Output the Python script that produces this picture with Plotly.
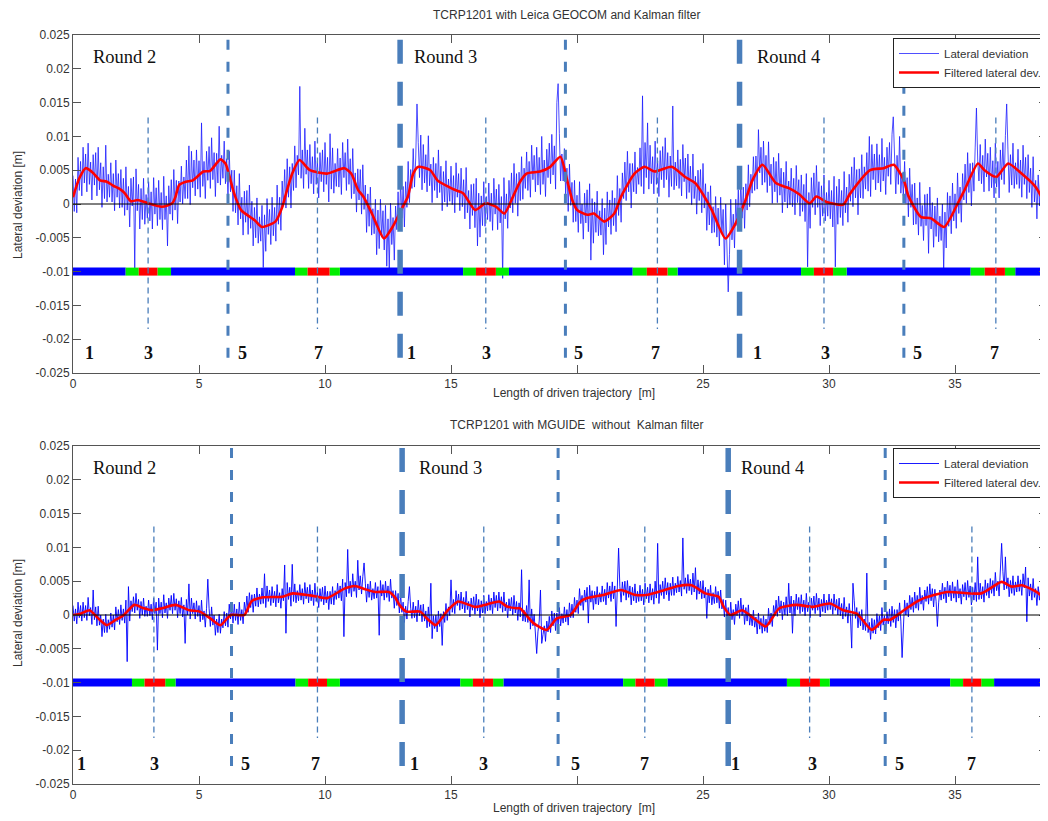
import numpy as np
import plotly.graph_objects as go

W, H = 1048, 821
PAGE_PAD = 8  # browser body margin around the plot div

# ---------------- DATA ----------------
sample_step_m = 0.05

# Top panel (Leica GEOCOM + Kalman): raw lateral deviation [mm], one value per 0.05 m
top_raw_mm = [
    4.2, -1.1, 3.7, -1.3, 6.9, 2.0, 6.3, 1.2, 8.4, 3.1,
    7.4, 1.8, 9.0, 2.9, 6.2, 0.6, 7.3, 2.8, 7.6, 1.2,
    8.4, 2.1, 6.1, -0.5, 5.5, 0.8, 8.7, 0.3, 4.4, 1.0,
    6.1, 0.3, 4.5, -1.0, 6.5, 1.0, 4.5, -0.6, 5.1, -0.5,
    3.8, -1.7, 5.5, -0.9, 2.6, -3.4, 3.8, -0.3, 4.0, -9.5,
    5.2, -1.0, 2.9, -3.7, 2.3, -2.3, 3.8, -3.0, 1.4, -2.1,
    3.3, -2.5, 1.8, -3.7, 3.9, -1.5, 2.4, -3.2, 3.5, -2.3,
    1.7, -3.8, 4.1, -2.3, 1.2, -6.2, 2.7, -1.5, 3.6, -2.4,
    5.1, -0.9, 3.5, -2.9, 3.4, 0.3, 5.6, 0.0, 4.0, 0.8,
    6.5, 0.8, 8.6, -0.1, 7.8, 2.4, 6.5, 1.2, 8.0, 2.2,
    6.4, 1.0, 12.0, 2.6, 6.3, 0.8, 7.8, 3.5, 8.5, 2.3,
    9.8, 3.6, 7.6, 1.1, 7.5, 3.1, 11.5, 2.8, 7.2, 3.8,
    9.3, 3.0, 6.7, 0.7, 7.8, 1.8, 5.0, -1.1, 5.0, -1.3,
    2.7, -3.1, 4.5, -2.2, 1.0, -4.6, 1.9, -2.7, 2.0, -4.5,
    2.8, -3.6, 0.4, -6.2, -0.5, -5.0, 0.9, -5.8, -1.9, -5.5,
    -0.2, -9.4, -1.6, -7.0, 0.8, -4.5, -0.8, -6.0, 1.0, -4.7,
    -0.5, -5.5, 2.8, -3.0, 1.0, -3.9, 3.4, -0.3, 5.1, -0.6,
    6.7, 1.0, 5.5, -0.6, 6.0, 2.0, 8.6, 2.4, 7.2, 4.3,
    17.4, 3.8, 8.0, 2.3, 11.2, 4.4, 8.0, 2.3, 8.8, 3.0,
    7.0, 1.5, 9.3, 2.9, 6.4, 0.9, 7.6, 3.3, 8.0, 1.8,
    9.1, 2.9, 6.9, 0.3, 10.4, 2.2, 8.3, 1.6, 6.0, 2.6,
    8.2, 2.5, 6.8, 1.4, 9.1, 3.9, 7.6, 2.0, 9.6, 2.9,
    6.7, 0.8, 8.2, 1.5, 4.6, -1.2, 5.2, 0.6, 5.1, -1.5,
    5.8, -0.8, 2.8, -4.2, 1.5, -3.3, 2.5, -4.6, -0.7, -4.4,
    0.7, -7.5, -0.9, -6.6, 0.7, -4.9, -1.0, -6.8, -0.2, -9.2,
    -2.2, -9.5, 0.1, -6.0, -2.0, -8.3, -0.3, -3.8, 1.8, -3.8,
    3.5, -2.1, 2.6, -3.4, 3.3, -0.5, 6.3, 0.2, 5.1, 2.3,
    8.2, 2.5, 6.8, 14.8, 9.1, 3.9, 10.2, 2.1, 8.8, 3.1,
    7.3, 1.8, 10.1, 2.7, 5.9, 0.2, 6.9, 2.0, 6.0, 0.9,
    8.0, 1.7, 5.6, -1.0, 4.8, 0.3, 6.4, -0.4, 3.7, 0.4,
    5.6, -0.1, 4.2, -1.3, 6.1, 1.0, 4.5, -1.0, 5.3, -0.4,
    3.6, -2.2, 5.4, -1.3, 2.0, -3.7, 2.9, -1.7, 3.0, -3.5,
    3.8, -6.2, 1.6, -4.9, 1.2, -3.2, 3.3, -3.3, 1.1, -2.3,
    3.1, -2.6, 1.6, -3.9, 3.8, -1.5, 2.2, -3.8, 2.9, -2.8,
    1.1, -11.0, 3.9, -2.2, 1.5, -3.6, 3.5, -0.6, 4.6, -1.3,
    6.0, 0.1, 4.5, -1.8, 4.7, 0.5, 7.0, 0.7, 5.3, 2.3,
    7.7, 2.0, 6.3, 1.0, 8.7, 3.6, 7.2, 1.8, 8.4, 2.8,
    6.9, 1.4, 10.0, 2.9, 6.5, 1.1, 8.1, 3.9, 9.0, 3.0,
    10.3, 4.3, 8.6, 2.2, 15.0, 17.8, 10.4, 3.4, 7.4, 3.4,
    8.2, 1.5, 5.3, -1.1, 5.9, -0.2, 3.2, -2.7, 3.5, -2.6,
    1.3, -4.2, 3.3, -2.9, 0.0, -5.2, 1.6, -2.8, 2.1, -4.1,
    3.0, -8.3, 0.8, -5.8, 0.3, -4.2, 1.9, -4.7, -1.0, -4.6,
    0.8, -7.5, -0.6, -6.0, 1.8, -3.4, 0.6, -4.5, 2.0, -3.2,
    0.9, -4.1, 4.2, -1.7, 2.3, -2.7, 4.6, 0.8, 6.2, 0.5,
    7.8, 1.8, 6.0, -0.6, 6.0, 1.8, 7.7, 1.5, 5.4, 2.9,
    8.3, 2.6, 16.0, 1.5, 9.1, 3.9, 12.0, 2.2, 8.7, 3.0,
    7.0, 1.5, 9.3, 2.9, 6.4, 1.1, 7.9, 3.6, 8.5, 2.4,
    9.8, 3.6, 7.6, 1.0, 7.1, 2.6, 14.5, 2.1, 6.2, 2.7,
    8.0, 2.3, 6.6, 1.2, 8.8, 3.3, 6.8, 0.8, 7.4, 1.7,
    5.6, -0.1, 7.4, 0.8, 4.1, -1.5, 5.0, 0.5, 5.1, -1.3,
    6.0, -0.6, 3.0, -3.9, 1.8, -3.1, 2.7, -4.3, -0.4, -4.2,
    1.1, -4.9, -0.6, -6.2, 1.0, -4.4, -0.8, -9.0, 0.0, -6.2,
    -13.0, -7.5, 0.7, -5.3, -1.5, -6.5, 0.7, -3.2, 2.1, -3.7,
    3.6, -2.1, 2.5, -3.6, 3.0, -0.9, 5.8, -0.4, 4.4, 1.6,
    7.0, 2.0, 7.1, 2.2, 11.0, 4.6, 8.4, 2.8, 9.3, 3.2,
    7.2, 1.7, 9.2, 2.7, 5.9, 0.1, 6.9, 1.8, 6.3, 0.2,
    7.5, 1.3, 5.3, -1.3, 4.7, 0.3, 6.3, -0.6, 3.4, -0.1,
    5.3, -0.4, 3.8, -1.6, 5.7, 0.2, 3.6, -1.8, 4.3, -1.1,
    2.9, -2.6, 4.5, -9.3, 1.7, -3.6, 3.9, -0.5, 4.6, -1.6,
    5.7, -0.5, 3.3, -3.2, 2.7, -1.8, 4.3, -2.5, 1.7, -1.8,
    3.5, -2.2, 2.0, -3.4, 4.1, -9.3, 2.6, -3.0, 3.7, -2.0,
    2.0, -3.2, 4.8, -1.3, 2.5, -2.7, 4.4, 0.4, 5.5, -0.4,
    6.9, 0.9, 5.1, -1.6, 5.2, 0.9, 7.3, 0.8, 5.5, 2.2,
    7.6, 1.9, 10.0, 1.1, 8.8, 3.6, 7.4, 2.1, 8.9, 3.1,
    7.3, 1.8, 9.7, 3.4, 6.9, 1.4, 8.4, 4.1, 9.1, 2.9,
    10.3, 12.9, 8.0, 1.5, 7.2, 2.9, 10.0, 1.6, 4.6, 1.2,
    6.3, 0.1, 3.9, -1.9, 5.3, -0.5, 2.9, -3.1, 3.1, -3.0,
    0.9, -4.6, 3.2, -3.3, -0.2, -5.4, 1.4, -3.2, 1.5, -7.3,
    2.5, -3.7, 0.2, -6.4, -0.3, -4.8, 0.9, -5.6, -1.8, -5.4,
    0.0, -9.8, -1.2, -6.5, 1.7, -3.3, 1.2, -4.4, 3.1, -2.5,
    1.5, -3.6, 4.6, -1.4, 2.5, -2.7, 4.5, 0.6, 5.9, 0.1,
    7.6, 1.7, 6.0, -0.3, 6.1, 1.9, 8.3, 14.2, 6.5, 3.4,
    8.8, 3.0, 7.2, 1.8, 9.6, 4.0, 7.5, 1.9, 8.4, 2.4,
    6.4, 0.9, 9.0, 2.5, 6.3, 0.9, 8.0, 3.6, 9.1, 2.9,
    10.1, 14.8, 8.0, 1.7, 7.3, 2.8, 9.0, 2.3, 6.1, 2.9,
    8.1, 2.3, 6.5, 1.0, 8.7, 2.9, 6.9, 0.8, 7.3, 1.7,
    5.3, -0.5, 7.0, 0.3, 3.5, -2.2, 4.3, -0.3, 4.3, -2.2,
    5.1, -1.1, 2.7, -4.5,
]

# Top panel filtered (Kalman) curve, read at points along the track
top_filt_x = [0.0, 0.25, 0.5, 0.8, 1.07, 1.34, 1.6, 1.82, 2.05, 2.3, 2.57, 2.98, 3.53, 3.94,
              4.07, 4.21, 4.48, 4.76, 5.17, 5.44, 5.85, 6.05, 6.25, 6.4, 6.67, 7.21, 7.49,
              8.03, 8.3, 8.45, 8.7, 8.99, 9.4, 10.08, 10.77, 11.04, 11.31, 11.52, 11.86,
              12.34, 12.68, 13.09, 13.29, 13.5, 13.71, 14.18, 14.46, 14.87, 15.14, 15.48,
              15.96, 16.37, 16.78, 17.12, 17.46, 17.74, 18.0, 18.54, 18.94, 19.34, 19.61,
              19.81, 20.01, 20.41, 20.67, 21.08, 21.48, 21.75, 22.28, 22.68, 23.08, 23.75,
              24.29, 24.69, 25.02, 25.35, 25.89, 26.29, 26.69, 26.96, 27.36, 27.89, 28.43,
              28.83, 29.23, 29.5, 29.9, 30.56, 30.83, 31.63, 32.17, 32.57, 32.97, 33.15,
              33.64, 34.04, 34.57, 35.11, 35.37, 35.91, 36.17, 36.64, 37.11, 37.64, 38.18,
              38.5, 38.65]
top_filt_mm = [1.0, 3.8, 5.3, 4.6, 3.5, 3.3, 2.7, 2.3, 1.6, 0.4, 0.6, 0.1, -0.4, 0.1,
               1.1, 2.8, 3.3, 3.5, 4.8, 4.9, 6.6, 6.0, 3.5, 1.5, -0.9, -2.4, -3.4,
               -2.6, -0.5, 1.5, 4.5, 6.5, 5.0, 4.5, 5.3, 4.5, 2.1, 1.1, -1.4,
               -5.1, -3.4, -0.4, 1.1, 4.5, 5.5, 5.0, 3.5, 2.6, 2.1, 1.6,
               -0.9, 0.1, -0.4, -1.4, 1.1, 3.3, 4.5, 4.8, 5.5, 7.0, 3.5,
               0.6, -0.9, -1.6, -1.4, -2.6, -1.4, 1.1, 4.5, 5.5, 4.8, 5.5,
               4.0, 3.1, 1.3, -0.9, -5.1, -2.9, 0.6, 3.5, 5.8, 3.1, 2.3,
               1.4, 0.1, 1.1, 0.3, -0.1, 1.5, 5.0, 5.3, 5.8, 3.5, 1.2,
               -1.9, -2.1, -3.4, 0.1, 2.0, 6.0, 5.0, 4.0, 6.0, 4.5, 2.6,
               0.5, -0.9]

# Bottom panel (MGUIDE, no Kalman): raw lateral deviation [mm], one value per 0.05 m
bot_raw_mm = [
    1.4, -0.9, 0.9, -1.3, 1.9, -0.4, 1.4, -0.9, 1.9, -0.4,
    1.4, -0.8, 2.6, -0.1, 1.1, -1.4, 3.7, -0.7, 1.2, -1.6,
    1.3, -1.5, 0.0, -3.2, -0.6, -2.6, 0.1, -2.6, -0.7, -2.1,
    0.3, -1.8, 0.0, -2.2, 1.2, -1.0, 0.8, -1.4, 1.5, -0.8,
    0.9, -1.2, 2.2, -6.9, 4.2, -0.9, 2.1, 0.5, 2.7, 0.3,
    3.2, 0.7, 2.3, -0.5, 2.0, 0.0, 2.5, -0.2, 1.3, -0.2,
    2.2, -0.1, 1.6, -0.7, 2.5, 0.2, 1.9, -5.2, 2.5, 0.2,
    1.9, -0.4, 3.0, 0.3, 1.8, -0.5, 2.5, 0.7, 2.9, 0.2,
    3.2, 0.7, 2.4, -0.4, 2.1, 0.2, 2.6, -0.3, 1.5, -4.2,
    2.3, 0.0, 4.6, -0.6, 2.5, 0.2, 1.8, -0.6, 2.1, -0.2,
    1.4, -1.0, 2.2, -0.7, 0.6, -1.8, 1.0, 5.3, 1.0, -1.7,
    1.2, -1.5, 0.0, -3.0, -0.6, -2.6, 0.1, -2.7, -0.6, -1.9,
    0.5, -1.6, 0.3, -1.8, 1.6, -0.6, 1.1, -1.2, 1.6, -0.8,
    0.9, -1.4, 1.9, -0.8, 0.8, -1.3, 1.9, 0.4, 2.8, 0.4,
    3.3, 1.1, 3.0, 0.4, 3.1, 1.3, 4.0, 1.2, 3.1, 1.6,
    4.0, 1.7, 6.1, 1.1, 4.3, 2.0, 3.7, 1.4, 4.2, 1.8,
    3.5, 1.2, 4.5, 1.8, 3.3, 1.0, 3.9, 2.1, 7.4, -2.7,
    4.8, 2.3, 4.1, 1.3, 7.5, 2.0, 4.6, 1.8, 3.6, 2.1,
    4.5, 2.2, 3.9, 1.6, 4.8, 2.4, 4.1, 1.8, 4.5, 2.1,
    3.7, 1.4, 4.7, 2.0, 3.4, 1.1, 3.9, 2.0, 4.1, 1.5,
    4.3, 1.8, 3.5, 0.8, 3.5, 1.6, 4.2, 1.5, 3.6, 2.3,
    4.7, 2.5, 4.3, 2.1, 5.3, -3.2, 4.8, 2.7, 9.7, 3.2,
    5.0, 2.7, 6.1, 3.5, 5.0, 2.6, 8.1, 3.7, 5.8, 3.1,
    5.7, 7.7, 4.7, 1.9, 4.6, 2.6, 5.0, 2.2, 3.9, 2.4,
    4.8, 2.5, 4.2, -3.0, 5.1, 2.8, 4.5, 2.2, 5.0, 2.6,
    4.3, 2.0, 5.3, 2.5, 3.6, 1.0, 3.6, 1.4, 3.2, 0.3,
    3.1, 0.4, 1.9, -1.1, 1.3, -0.6, 2.0, 4.2, 1.0, -0.5,
    1.9, -0.4, 1.3, -1.0, 2.2, -0.1, 1.5, -1.0, 1.6, -0.9,
    0.6, -1.9, 1.2, -1.7, 4.7, -3.5, -0.1, -2.0, 0.0, -2.5,
    0.6, -1.7, 0.2, -4.5, 0.5, -1.1, 1.7, -0.8, 1.2, -0.1,
    5.2, 0.4, 2.3, 0.2, 3.6, 1.4, 3.1, 0.7, 3.4, 0.9,
    2.6, 0.3, 3.5, 0.8, 2.0, -0.3, 2.5, 0.7, 2.7, 0.1,
    3.1, 0.6, 2.3, -0.4, 2.1, 0.3, 2.9, 0.2, 2.0, 0.6,
    3.0, 0.7, 2.5, 0.2, 3.4, 1.1, 2.9, 0.6, 3.4, 1.0,
    2.7, 0.4, 3.4, 0.6, 1.9, -0.4, 2.4, 0.6, 2.6, 0.0,
    2.9, 0.3, 2.0, -0.8, 1.8, -0.3, 6.7, -0.9, 0.7, -1.0,
    1.4, -1.1, 5.2, -2.1, 0.9, -1.6, 0.1, -2.6, -5.7, -2.5,
    -0.9, 3.7, -4.2, -2.9, -1.6, -3.9, -0.9, -2.5, -0.2, -2.6,
    0.6, -1.6, 0.3, -2.3, 0.3, -1.5, 1.1, -1.6, 0.2, -1.2,
    1.2, -1.0, 0.8, -1.5, 1.8, -0.4, 1.6, -0.4, 2.6, 0.4,
    2.2, 0.2, 3.9, 1.4, 2.9, 0.7, 3.7, 1.9, 4.1, -1.2,
    4.4, 1.9, 3.6, 0.8, 3.5, 1.6, 4.2, 1.5, 3.3, 1.9,
    4.3, 2.0, 3.8, 1.5, 4.8, 2.5, 4.3, 2.0, 4.9, 2.4,
    4.3, -1.7, 5.4, 9.9, 4.2, 1.9, 4.9, 2.9, 5.0, 2.2,
    5.1, 2.6, 4.3, 1.5, 4.1, 2.1, 4.6, 1.8, 3.5, 2.0,
    4.4, 2.1, 3.8, 1.5, 4.7, 2.4, 4.1, 1.8, 4.6, 2.2,
    3.9, 1.6, 5.0, 2.5, 10.6, 1.7, 4.5, 2.9, 5.0, 2.4,
    5.5, 3.0, 4.8, 2.1, 4.7, 2.9, 5.6, 2.9, 4.7, 3.3,
    5.7, 3.4, 5.1, 2.8, 11.4, 3.8, 5.5, 3.2, 6.0, 3.6,
    5.3, 3.0, 6.2, 3.4, 7.0, 2.3, 5.2, 3.1, 5.0, 2.4,
    5.1, 2.5, 4.1, -0.5, 3.8, 1.8, 4.4, 1.5, 3.3, 1.7,
    4.2, 1.8, 3.5, 1.0, 3.7, 0.9, 2.3, -0.3, 2.2, -0.5,
    1.1, -1.4, 1.9, -0.7, 0.8, -1.4, 1.6, -0.1, 2.1, -0.5,
    2.5, -0.1, 1.5, -1.4, 1.1, -0.9, 1.5, -1.5, 0.1, -1.6,
    0.7, -1.8, -0.3, -2.8, 0.3, -2.1, -0.5, -2.7, -0.1, -2.4,
    -0.6, -2.6, 1.0, -1.4, 0.3, -1.7, 1.4, -0.1, 2.2, -0.2,
    2.8, 0.3, 2.1, -0.7, 1.9, 0.0, 2.7, -0.1, 4.7, 0.3,
    2.8, -2.7, 2.2, -0.1, 3.1, 0.8, 2.6, 0.2, 3.0, 0.5,
    2.2, -0.1, 3.2, 0.5, 1.9, -0.4, 2.5, 0.7, 2.8, 0.2,
    3.2, 0.7, 2.5, -0.3, 2.3, 0.5, 3.1, 0.3, 2.2, 0.7,
    3.1, 0.8, 2.4, 0.1, 3.1, 0.7, 2.3, 0.0, 2.5, -0.1,
    1.7, -0.6, 2.6, -0.2, 1.2, -1.2, 1.7, -0.3, -4.9, 4.7,
    2.1, -0.5, 1.1, -1.9, 0.5, -1.6, 0.8, -2.2, -0.6, -2.3,
    6.2, -2.6, -1.1, -3.6, -0.5, -2.7, -0.7, -2.8, 0.2, -1.9,
    -0.1, -2.3, 1.1, -1.5, -0.1, -2.4, 0.5, -1.3, 0.9, -1.7,
    1.3, -1.1, 0.8, -1.9, 0.8, -0.9, 1.8, -0.9, -6.3, -0.3,
    2.2, 0.0, 1.8, -0.3, 2.9, 0.8, 2.6, 0.4, 3.4, 1.0,
    2.9, 0.7, 4.1, 1.6, 2.9, 0.7, 3.7, 2.0, 4.2, 1.6,
    4.6, 2.1, 3.9, 1.2, 3.8, 2.0, -1.7, 1.8, 3.7, 2.2,
    4.7, 2.4, 4.1, 1.8, 5.0, 2.7, 4.4, 2.1, 4.9, 2.5,
    4.2, 1.9, 5.2, 2.5, 3.9, 1.6, 4.5, 2.7, 4.8, 2.2,
    5.1, 2.6, 4.3, 1.5, 4.1, 2.2, 4.8, 2.0, 8.6, 2.3,
    4.7, 2.4, 4.2, 1.9, 5.2, 2.9, 4.7, 2.5, 5.4, 3.2,
    5.1, 2.8, 6.3, 3.6, 5.0, 2.8, 6.0, 10.6, 6.4, 3.7,
    8.6, 3.9, 5.5, 2.7, 5.1, 3.2, 5.8, 2.9, 4.9, 3.4,
    5.8, 3.5, 5.2, 2.9, 6.1, 4.0, 7.1, -1.0, 5.5, 2.8,
    4.6, 2.2, 5.4, 2.6, 3.9, 1.4, 4.2, 2.2, 4.2, 1.4,
    4.3, 4.7, 3.3, 1.1,
]

bot_filt_x = [0.0, 0.3, 0.66, 1.0, 1.34, 1.7, 2.02, 2.43, 2.8, 3.12, 3.53, 4.07, 4.62, 5.03,
              5.45, 5.85, 6.26, 6.8, 7.08, 7.49, 8.31, 8.72, 9.4, 10.08, 10.77, 11.18, 11.6,
              12.0, 12.54, 12.78, 12.95, 13.23, 13.77, 14.1, 14.39, 14.87, 15.28, 15.96,
              16.45, 16.92, 17.2, 17.6, 17.74, 18.27, 18.8, 19.2, 19.74, 20.14, 20.41,
              21.08, 21.75, 22.28, 22.82, 23.48, 24.02, 24.55, 25.09, 25.62, 25.82, 26.09,
              26.55, 27.09, 27.49, 28.03, 28.7, 29.36, 30.03, 30.57, 31.1, 31.7, 32.17,
              32.43, 32.97, 33.5, 33.77, 34.7, 36.04, 36.85, 37.25, 37.65, 38.2, 38.65]
bot_filt_mm = [0.0, 0.2, 0.7, -0.5, -1.5, -0.7, 0.0, 1.5, 1.0, 0.7, 1.0, 1.5, 0.7, 0.5,
               -0.5, -1.5, 0.0, 0.0, 2.0, 2.6, 2.7, 3.2, 2.9, 2.5, 3.9, 4.3, 3.8,
               3.4, 3.4, 2.6, 1.5, 0.5, 0.5, -0.7, -1.5, 0.7, 2.0, 1.2,
               1.6, 2.0, 1.3, 1.0, 1.0, -1.2, -2.2, -0.5, 0.0, 2.0, 2.5,
               3.0, 3.7, 3.0, 3.0, 3.7, 4.3, 4.4, 3.2, 2.7, 1.2, 0.0,
               0.7, -0.7, -1.7, 1.0, 1.5, 1.2, 1.7, 0.7, 0.2, -2.2, -0.7,
               -0.7, 0.7, 2.0, 2.5, 3.4, 3.2, 4.9, 4.2, 4.4, 3.5, 2.2]

# Track-section bar at y = -0.01 (boundaries in m and the kind of each piece)
bar_level = -0.01
top_seg_edges = [0, 2.09, 2.61, 3.35, 3.89, 8.81, 9.31, 10.18, 10.59, 15.48, 15.99, 16.78, 17.30,
                 22.21, 22.77, 23.59, 23.99, 28.89, 29.40, 30.16, 30.70, 35.62, 36.18, 36.98,
                 37.39, 38.65]
bot_seg_edges = [0, 2.34, 2.84, 3.66, 4.07, 8.83, 9.33, 10.08, 10.59, 15.37, 15.87, 16.67, 17.08,
                 21.83, 22.32, 23.08, 23.59, 28.33, 28.85, 29.64, 30.03, 34.81, 35.32, 36.04,
                 36.55, 38.65]
seg_kinds = ["straight", "transition", "curve", "transition"] * 6 + ["straight"]

# Vertical markers
top_round_x = [12.98, 26.45]
top_half_x = [6.15, 19.54, 32.97]
top_point_x = [2.98, 9.70, 16.38, 23.19, 29.80, 36.62]
bot_round_x = [13.06, 26.00]
bot_half_x = [6.29, 19.25, 32.23]
bot_point_x = [3.21, 9.70, 16.30, 22.69, 29.23, 35.67]

# Labels
round_names = ["Round 2", "Round 3", "Round 4"]
top_round_label_x = [0.71, 13.45, 27.05]
bot_round_label_x = [0.71, 13.64, 26.43]
point_names = ["1", "3", "5", "7"] * 3
top_point_label_x = [0.67, 2.98, 6.74, 9.74, 13.43, 16.41, 20.04, 23.12, 27.16, 29.87, 33.5, 36.55]
bot_point_label_x = [0.34, 3.25, 6.85, 9.64, 13.57, 16.30, 19.94, 22.68, 26.29, 29.34, 32.81, 35.64]

x_ticks = [0, 5, 10, 15, 20, 25, 30, 35]
x_tick_text = ["0", "5", "10", "15", "", "25", "30", "35"]
y_ticks = [0.025, 0.02, 0.015, 0.01, 0.005, 0, -0.005, -0.01, -0.015, -0.02, -0.025]
y_tick_text = ["0.025", "0.02", "0.015", "0.01", "0.005", "0", "-0.005", "-0.01", "-0.015", "-0.02", "-0.025"]

# ---------------- STYLE ----------------
X_MAX = 38.65
seg_colors = {"straight": "#0000ff", "transition": "#00ee00", "curve": "#ff0000"}
marker_col = "#4a7ebb"
sans = "Liberation Sans, Arial, sans-serif"
serif = "Liberation Serif, Times New Roman, serif"
txt_col = "#333333"


def px2x(p):
    return (p - PAGE_PAD) / W


def px2y(p):
    return 1 - (p - PAGE_PAD) / H


fig = go.Figure()


def add_panel(raw_mm, fx, fmm, edges, xa, ya, legend, raw_color, raw_width):
    xs = np.arange(len(raw_mm)) * sample_step_m
    fig.add_trace(go.Scatter(x=xs, y=np.array(raw_mm) / 1000.0, mode="lines",
                             line=dict(color=raw_color, width=raw_width), name="Lateral deviation",
                             xaxis=xa, yaxis=ya, legend=legend, hoverinfo="skip"))
    fig.add_trace(go.Scatter(x=fx, y=np.array(fmm) / 1000.0, mode="lines",
                             line=dict(color="#ff0000", width=2.6, shape="spline", smoothing=0.6),
                             name="Filtered lateral dev.",
                             xaxis=xa, yaxis=ya, legend=legend, hoverinfo="skip"))
    for kind, col in seg_colors.items():
        sx, sy = [], []
        for i, k in enumerate(seg_kinds):
            if k == kind:
                sx += [edges[i], edges[i + 1], None]
                sy += [bar_level, bar_level, None]
        fig.add_trace(go.Scatter(x=sx, y=sy, mode="lines", line=dict(color=col, width=8),
                                 showlegend=False, xaxis=xa, yaxis=ya, hoverinfo="skip"))


add_panel(top_raw_mm, top_filt_x, top_filt_mm, top_seg_edges, "x", "y", "legend",
          "rgba(20,20,255,0.75)", 1.0)
add_panel(bot_raw_mm, bot_filt_x, bot_filt_mm, bot_seg_edges, "x2", "y2", "legend2",
          "#0000ff", 0.9)

shapes = []


def vlines(xs, xref, yref, y_top, y_bot, width, dash):
    for v in xs:
        shapes.append(dict(type="line", xref=xref, yref=yref, x0=v, x1=v, y0=y_top, y1=y_bot,
                           line=dict(color=marker_col, width=width, dash=dash), layer="above"))


for xref, yref in (("x", "y"), ("x2", "y2")):
    shapes.append(dict(type="line", xref=xref + " domain", yref=yref, x0=0, x1=1, y0=0, y1=0,
                       line=dict(color="black", width=1), layer="above"))

vlines(top_point_x, "x", "y", 0.0128, -0.0185, 1.3, "6px,4px")
vlines(top_half_x, "x", "y", 0.0243, -0.0241, 3, "10px,12px")
vlines(top_round_x, "x", "y", 0.0243, -0.0231, 5.5, "24px,18px")
vlines(bot_point_x, "x2", "y2", 0.0131, -0.0182, 1.3, "6px,4px")
vlines(bot_half_x, "x2", "y2", 0.0247, -0.0237, 3, "10px,12px")
vlines(bot_round_x, "x2", "y2", 0.0247, -0.0226, 5.5, "24px,18px")

annotations = []
for xa, ya, rx, px_ in (("x", "y", top_round_label_x, top_point_label_x),
                        ("x2", "y2", bot_round_label_x, bot_point_label_x)):
    for name, xv in zip(round_names, rx):
        annotations.append(dict(x=xv, y=0.0217, xref=xa, yref=ya, text=name, showarrow=False,
                                xanchor="left", yanchor="middle",
                                font=dict(family=serif, size=18.5, color="#111")))
    for name, xv in zip(point_names, px_):
        annotations.append(dict(x=xv, y=-0.0220, xref=xa, yref=ya, text="<b>" + name + "</b>",
                                showarrow=False, xanchor="center", yanchor="middle",
                                font=dict(family=serif, size=18, color="#111")))

texts = [
    ("TCRP1201 with Leica GEOCOM and Kalman filter", 566, 15, 0),
    ("TCRP1201 with MGUIDE  without  Kalman filter", 576, 425, 0),
    ("Length of driven trajectory  [m]", 574, 393, 0),
    ("Length of driven trajectory  [m]", 574, 808, 0),
    ("Lateral deviation [m]", 18, 205, -90),
    ("Lateral deviation [m]", 18, 613, -90),
]
for t, xp, yp, ang in texts:
    annotations.append(dict(x=px2x(xp), y=px2y(yp), xref="paper", yref="paper", text=t,
                            showarrow=False, xanchor="center", yanchor="middle", textangle=ang,
                            font=dict(family=sans, size=12, color=txt_col)))

axis_common = dict(showgrid=False, zeroline=False, showline=True, linecolor="#555", linewidth=1,
                   mirror="allticks", ticks="inside", ticklen=8, tickcolor="#555", automargin=False,
                   tickfont=dict(family=sans, size=12, color=txt_col))

xdom = [px2x(73), px2x(1047)]
legend_common = dict(xanchor="left", yanchor="top", bgcolor="white", bordercolor="#222",
                     borderwidth=1, font=dict(family=sans, size=11.5, color=txt_col),
                     tracegroupgap=0, itemwidth=40, entrywidth=160)
fig.update_layout(
    template="none",
    width=W, height=H, paper_bgcolor="white", plot_bgcolor="white",
    margin=dict(l=0, r=0, t=0, b=0, autoexpand=False),
    xaxis=dict(domain=xdom, range=[0, X_MAX], anchor="y", tickvals=x_ticks, ticktext=x_tick_text,
               **axis_common),
    yaxis=dict(domain=[px2y(373), px2y(35)], range=[-0.025, 0.025], anchor="x",
               tickvals=y_ticks, ticktext=y_tick_text, **axis_common),
    xaxis2=dict(domain=xdom, range=[0, X_MAX], anchor="y2", tickvals=x_ticks, ticktext=x_tick_text,
                **axis_common),
    yaxis2=dict(domain=[px2y(784), px2y(446)], range=[-0.025, 0.025], anchor="x2",
                tickvals=y_ticks, ticktext=y_tick_text, **axis_common),
    legend=dict(x=px2x(893), y=px2y(38), **legend_common),
    legend2=dict(x=px2x(893), y=px2y(448), **legend_common),
    shapes=shapes,
    annotations=annotations,
    showlegend=True,
)

fig.write_html("out.html")
